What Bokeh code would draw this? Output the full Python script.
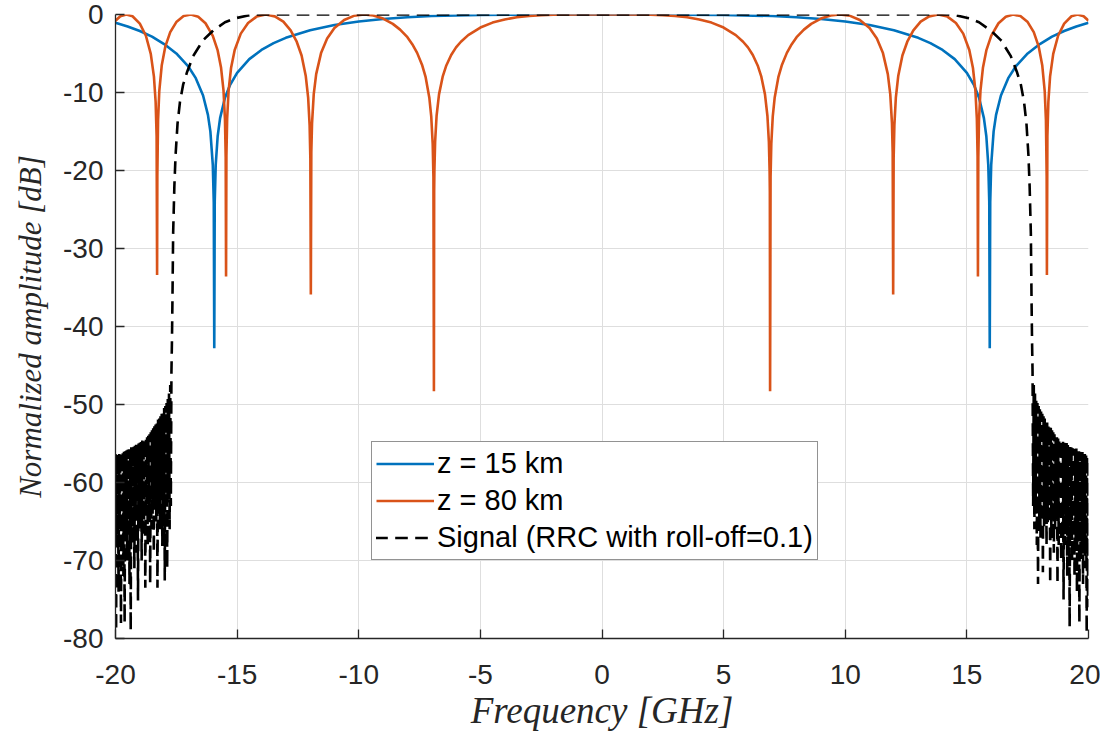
from bokeh.plotting import figure
from bokeh.models import FixedTicker, Legend, LegendItem
from bokeh.embed import file_html
from bokeh.resources import INLINE

# ---------------- data ----------------
# z = 15 km  (blue)
blue_f = [-20.0, -19.5, -19.0, -18.5, -18.0, -17.5, -17.0, -16.7, -16.4, -16.2, -16.1, -16.0,
          -15.96, -15.94, -15.92, -15.88, -15.8, -15.7, -15.5, -15.3, -15.0, -14.5, -14.0, -13.5,
          -13.0, -12.0, -11.0, -10.0, -9.0, -8.0, -7.0, -5.0, -3.0, 0.0,
          3.0, 5.0, 7.0, 8.0, 9.0, 10.0, 11.0, 12.0, 13.0, 13.5, 14.0, 14.5, 15.0, 15.3, 15.5,
          15.7, 15.8, 15.88, 15.92, 15.94, 15.96, 16.0, 16.1, 16.2, 16.4, 16.7, 17.0, 17.5, 18.0,
          18.5, 19.0, 19.5, 20.0]
blue_db = [-1.05, -1.53, -2.12, -2.83, -3.79, -4.99, -6.69, -8.16, -10.38, -12.87, -14.99, -19.28,
           -24.1, -42.8, -24.0, -19.28, -15.61, -13.28, -10.68, -9.09, -7.48, -5.72, -4.54, -3.67,
           -2.99, -2.01, -1.35, -0.89, -0.57, -0.35, -0.20, -0.05, -0.01, 0.0,
           -0.01, -0.05, -0.20, -0.35, -0.57, -0.89, -1.35, -2.01, -2.99, -3.67, -4.54, -5.72, -7.48,
           -9.09, -10.68, -13.28, -15.61, -19.28, -24.0, -42.8, -24.1, -19.28, -14.99, -12.87,
           -10.38, -8.16, -6.69, -4.99, -3.79, -2.83, -2.12, -1.53, -1.05]

# z = 80 km  (orange)
orange_f = [-20.0, -19.8, -19.55, -19.3, -19.0, -18.75, -18.55, -18.42, -18.35, -18.31, -18.29,
            -18.28, -18.25, -18.2, -18.1, -17.95, -17.75, -17.5, -17.2, -16.9, -16.6, -16.3, -16.0,
            -15.8, -15.66, -15.56, -15.5, -15.47, -15.455, -15.44, -15.41, -15.35, -15.25, -15.1,
            -14.85, -14.55, -14.2, -13.82, -13.45, -13.1, -12.8, -12.55, -12.35, -12.18, -12.08,
            -12.02, -11.99, -11.97, -11.95, -11.92, -11.85, -11.75, -11.55, -11.3, -11.0, -10.6,
            -10.2, -9.78, -9.4, -9.0, -8.6, -8.3, -8.0, -7.8, -7.6, -7.4, -7.25, -7.1, -7.02, -6.96,
            -6.93, -6.91, -6.90, -6.89, -6.86, -6.8, -6.7, -6.55, -6.4, -6.2, -6.0, -5.8, -5.5,
            -5.0, -4.5, -4.0, -3.5, -3.0, -2.5, -2.0, -1.0, 0.0,
            1.0, 2.0, 2.5, 3.0, 3.5, 4.0, 4.5, 5.0, 5.5, 5.8, 6.0, 6.2, 6.4, 6.55, 6.7, 6.8, 6.86,
            6.89, 6.90, 6.91, 6.93, 6.96, 7.02, 7.1, 7.25, 7.4, 7.6, 7.8, 8.0, 8.3, 8.6, 9.0, 9.4,
            9.78, 10.2, 10.6, 11.0, 11.3, 11.55, 11.75, 11.85, 11.92, 11.95, 11.97, 11.99, 12.02,
            12.08, 12.18, 12.35, 12.55, 12.8, 13.1, 13.45, 13.82, 14.2, 14.55, 14.85, 15.1, 15.25,
            15.35, 15.41, 15.44, 15.455, 15.47, 15.5, 15.56, 15.66, 15.8, 16.0, 16.3, 16.6, 16.9,
            17.2, 17.5, 17.75, 17.95, 18.1, 18.2, 18.25, 18.28, 18.29, 18.31, 18.35, 18.42, 18.55,
            18.75, 19.0, 19.3, 19.55, 19.8, 20.0]
orange_db = [-0.79, -0.23, 0.0, -0.22, -1.16, -2.72, -5.04, -7.97, -11.21, -15.59, -33.4,
             -20.7, -13.51, -9.82, -6.54, -4.08, -2.26, -0.97, -0.20, 0.0, -0.29, -1.12, -2.73,
             -4.60, -6.83, -9.73, -13.43, -18.27, -33.6, -18.07, -13.37, -9.72, -6.86, -4.56,
             -2.45, -1.08, -0.27, 0.0, -0.24, -0.92, -2.04, -3.49, -5.26, -7.84, -10.67,
             -14.19, -18.4, -35.9, -17.67, -13.92, -10.21, -7.64, -4.95, -3.08, -1.74, -0.70,
             -0.17, 0.0, -0.12, -0.52, -1.20, -1.94, -2.91, -3.80, -4.92, -6.43, -8.04, -10.63,
             -13.06, -16.6, -20.8, -48.3, -22.7, -20.0, -16.29, -12.98, -10.24, -7.97, -6.53,
             -5.19, -4.22, -3.49, -2.64, -1.67, -1.04, -0.63, -0.36, -0.19, -0.09, -0.04, 0.0, 0.0,
             0.0, -0.04, -0.09, -0.19, -0.36, -0.63, -1.04, -1.67, -2.64, -3.49, -4.22, -5.19,
             -6.53, -7.97, -10.24, -12.98, -16.29, -20.0, -22.7, -48.3, -20.8, -16.6, -13.06,
             -10.63, -8.04, -6.43, -4.92, -3.80, -2.91, -1.94, -1.20, -0.52, -0.12, 0.0, -0.17,
             -0.70, -1.74, -3.08, -4.95, -7.64, -10.21, -13.92, -17.67, -35.9, -18.4, -14.19,
             -10.67, -7.84, -5.26, -3.49, -2.04, -0.92, -0.24, 0.0, -0.27, -1.08, -2.45, -4.56,
             -6.86, -9.72, -13.37, -18.07, -33.6, -18.27, -13.43, -9.73, -6.83, -4.60, -2.73,
             -1.12, -0.29, 0.0, -0.20, -0.97, -2.26, -4.08, -6.54, -9.82, -13.51, -20.7, -33.4,
             -15.59, -11.21, -7.97, -5.04, -2.72, -1.16, -0.22, 0.0, -0.23, -0.79]

# Signal (RRC with roll-off = 0.1), black dashed -- pieces joined into one line
# left stop-band ripple (alternating envelope top / ripple bottom)
sig_left_f = [-20.000, -19.975, -19.950, -19.925, -19.900, -19.875, -19.850, -19.825, -19.800,
              -19.775, -19.750, -19.725, -19.700, -19.675, -19.650, -19.625, -19.600, -19.575,
              -19.550, -19.525, -19.500, -19.475, -19.450, -19.425, -19.400, -19.375, -19.350,
              -19.325, -19.300, -19.275, -19.250, -19.225, -19.200, -19.175, -19.150, -19.125,
              -19.100, -19.075, -19.050, -19.025, -19.000, -18.975, -18.950, -18.925, -18.900,
              -18.875, -18.850, -18.825, -18.800, -18.775, -18.750, -18.725, -18.700, -18.675,
              -18.650, -18.625, -18.600, -18.575, -18.550, -18.525, -18.500, -18.475, -18.450,
              -18.425, -18.400, -18.375, -18.350, -18.325, -18.300, -18.275, -18.250, -18.225,
              -18.200, -18.175, -18.150, -18.125, -18.100, -18.075, -18.050, -18.025, -18.000,
              -17.975, -17.950, -17.925, -17.900, -17.875, -17.850, -17.825, -17.800, -17.775,
              -17.750, -17.725, -17.700]
sig_left_db = [-56.5, -79.0, -56.45, -68.0, -56.4, -74.0, -56.35, -66.0, -56.3,
               -78.0, -56.2, -69.0, -56.1, -72.0, -56.05, -78.0, -56.0, -67.0,
               -55.9, -70.0, -55.8, -65.0, -55.75, -73.0, -55.7, -79.0, -55.6,
               -68.0, -55.5, -66.0, -55.4, -71.0, -55.3, -64.0, -55.2, -69.0,
               -55.1, -75.0, -55.0, -66.0, -54.9, -64.0, -54.8, -70.0, -54.7,
               -67.0, -54.6, -65.0, -54.5, -73.5, -54.35, -64.0, -54.2, -68.0,
               -54.0, -63.0, -53.8, -73.0, -53.55, -66.0, -53.3, -64.0, -53.05,
               -69.0, -52.8, -63.0, -52.55, -65.0, -52.3, -73.5, -52.05, -64.0,
               -51.8, -66.0, -51.5, -62.0, -51.2, -68.0, -50.9, -64.0, -50.6,
               -72.5, -50.2, -63.0, -49.8, -71.0, -49.3, -62.0, -48.6, -66.0,
               -47.5, -63.0, -45.8]
# pass band with roll-off edges
sig_mid_f = [-17.68, -17.66, -17.63, -17.58, -17.53, -17.45, -17.35, -17.22, -17.05, -16.8,
             -16.4, -16.0, -15.5, -15.1, -14.6, -14.2,
             14.2, 14.6, 15.1, 15.5, 16.0, 16.4, 16.8, 17.05, 17.22, 17.35, 17.45, 17.53, 17.58,
             17.63, 17.66, 17.68]
sig_mid_db = [-42.0, -37.0, -28.0, -22.0, -18.0, -14.0, -11.2, -9.0, -7.3, -5.3,
              -3.3, -2.1, -1.0, -0.5, -0.15, 0.0,
              0.0, -0.15, -0.5, -1.0, -2.1, -3.3, -5.3, -7.3, -9.0, -11.2, -14.0, -18.0, -22.0,
              -28.0, -37.0, -42.0]
# right stop-band ripple
sig_right_f = [17.700, 17.725, 17.750, 17.775, 17.800, 17.825, 17.850, 17.875, 17.900, 17.925,
               17.950, 17.975, 18.000, 18.025, 18.050, 18.075, 18.100, 18.125, 18.150, 18.175,
               18.200, 18.225, 18.250, 18.275, 18.300, 18.325, 18.350, 18.375, 18.400, 18.425,
               18.450, 18.475, 18.500, 18.525, 18.550, 18.575, 18.600, 18.625, 18.650, 18.675,
               18.700, 18.725, 18.750, 18.775, 18.800, 18.825, 18.850, 18.875, 18.900, 18.925,
               18.950, 18.975, 19.000, 19.025, 19.050, 19.075, 19.100, 19.125, 19.150, 19.175,
               19.200, 19.225, 19.250, 19.275, 19.300, 19.325, 19.350, 19.375, 19.400, 19.425,
               19.450, 19.475, 19.500, 19.525, 19.550, 19.575, 19.600, 19.625, 19.650, 19.675,
               19.700, 19.725, 19.750, 19.775, 19.800, 19.825, 19.850, 19.875, 19.900, 19.925,
               19.950, 19.975, 20.000]
sig_right_db = [-45.8, -63.0, -47.5, -66.0, -48.6, -64.0, -49.3, -68.0, -49.8, -73.0,
                -50.2, -65.0, -50.6, -67.0, -50.9, -64.0, -51.2, -71.5, -51.5, -66.0,
                -51.8, -64.0, -52.05, -68.0, -52.3, -65.0, -52.55, -63.0, -52.8, -73.0,
                -53.05, -67.0, -53.3, -65.0, -53.55, -69.0, -53.8, -66.0, -54.0, -64.0,
                -54.2, -73.0, -54.35, -68.0, -54.5, -65.0, -54.6, -70.0, -54.7, -66.0,
                -54.8, -75.0, -54.9, -68.0, -55.0, -66.0, -55.1, -72.0, -55.2, -69.0,
                -55.3, -78.5, -55.4, -67.0, -55.5, -70.0, -55.6, -66.0, -55.7, -72.0,
                -55.75, -68.0, -55.8, -74.0, -55.9, -67.0, -56.0, -78.0, -56.05, -70.0,
                -56.1, -68.0, -56.2, -73.0, -56.3, -69.0, -56.35, -71.0, -56.4, -79.3,
                -56.45, -76.0, -56.5]

signal_f = sig_left_f + sig_mid_f + sig_right_f
signal_db = sig_left_db + sig_mid_db + sig_right_db

x_ticks = [-20, -15, -10, -5, 0, 5, 10, 15, 20]
y_ticks = [-80, -70, -60, -50, -40, -30, -20, -10, 0]
legend_labels = ["z = 15 km", "z = 80 km", "Signal (RRC with roll-off=0.1)"]
x_label = "Frequency [GHz]"
y_label = "Normalized amplitude [dB]"

# ---------------- figure ----------------
AX = "#262626"
p = figure(frame_width=973, frame_height=624, x_range=(-20, 20), y_range=(-80, 0),
           output_backend="svg", toolbar_location=None,
           min_border_left=115, min_border_right=12, min_border_top=14, min_border_bottom=88)
p.outline_line_color = None
p.background_fill_color = "white"

for ax in (p.xaxis, p.yaxis):
    ax.minor_tick_line_color = None
    ax.major_tick_in = 9
    ax.major_tick_out = 0
    ax.axis_line_color = AX
    ax.axis_line_width = 1.3
    ax.major_tick_line_color = AX
    ax.major_tick_line_width = 1.3
    ax.major_label_text_font = "Liberation Sans"
    ax.major_label_text_font_size = "28px"
    ax.major_label_text_color = AX
    ax.axis_label_text_font = "Liberation Serif"
    ax.axis_label_text_font_style = "italic"
    ax.axis_label_text_color = AX

p.xaxis.axis_label_text_font_size = "37px"
p.yaxis.axis_label_text_font_size = "31px"
p.xaxis.ticker = FixedTicker(ticks=x_ticks)
p.yaxis.ticker = FixedTicker(ticks=y_ticks)
p.xaxis.major_label_overrides = {t: str(t) for t in x_ticks}
p.yaxis.major_label_overrides = {t: str(t) for t in y_ticks}
p.xaxis.major_label_standoff = 26
p.yaxis.major_label_standoff = 12
p.xaxis.axis_label = x_label
p.yaxis.axis_label = y_label
p.xaxis.axis_label_standoff = 3
p.yaxis.axis_label_standoff = 12

for g in (p.xgrid, p.ygrid):
    g.grid_line_color = "#dedede"
    g.grid_line_width = 1

r_blue = p.line(blue_f, blue_db, line_color="#0072BD", line_width=2.6)
r_orange = p.line(orange_f, orange_db, line_color="#D95319", line_width=2.6)
r_sig = p.line(signal_f, signal_db, line_color="black", line_width=2.6, line_dash="10 10",
               line_cap="square")

legend = Legend(items=[LegendItem(label=legend_labels[0], renderers=[r_blue]),
                       LegendItem(label=legend_labels[1], renderers=[r_orange]),
                       LegendItem(label=legend_labels[2], renderers=[r_sig])],
                location=(256, 78))
legend.label_text_font = "Liberation Sans"
legend.label_text_font_size = "29px"
legend.label_text_color = "black"
legend.glyph_width = 58
legend.glyph_height = 35
legend.label_height = 35
legend.label_standoff = 3
legend.spacing = 2
legend.padding = 4
legend.margin = 0
legend.border_line_color = AX
legend.border_line_width = 1
legend.background_fill_alpha = 1.0
p.add_layout(legend)

open("out.html", "w").write(file_html(p, INLINE))
